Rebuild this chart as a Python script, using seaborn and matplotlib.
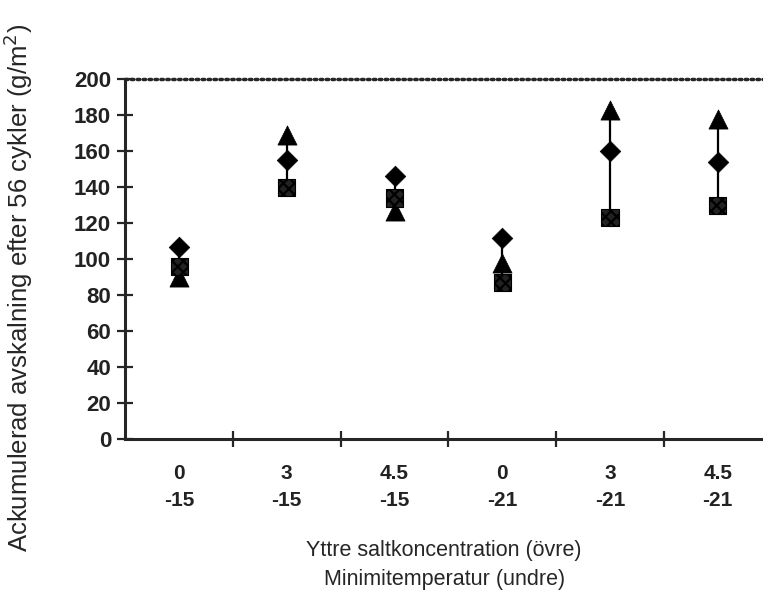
import matplotlib
matplotlib.use("Agg")
import matplotlib.pyplot as plt
import seaborn as sns
import numpy as np
import pandas as pd

# ---- data ----
salt = ["0", "3", "4.5", "0", "3", "4.5"]
mintemp = ["-15", "-15", "-15", "-21", "-21", "-21"]
series_triangle = [90, 169, 127, 98, 183, 178]
series_diamond = [107, 155, 146, 112, 160, 154]
series_square = [96, 140, 134, 87, 123, 130]
y_ticks = [0, 20, 40, 60, 80, 100, 120, 140, 160, 180, 200]

sns.set_style("ticks")
plt.rcParams["font.family"] = ["Liberation Sans", "DejaVu Sans"]
plt.rcParams["hatch.linewidth"] = 1.6
plt.rcParams["hatch.color"] = "white"

labels = [f"{s}\n{t}" for s, t in zip(salt, mintemp)]
pos = np.arange(len(labels))
df = pd.DataFrame({
    "pos": np.tile(pos, 3),
    "value": series_triangle + series_square + series_diamond,
    "serie": ["triangle"] * 6 + ["square"] * 6 + ["diamond"] * 6,
})

fig = plt.figure(figsize=(7.63, 6.0), dpi=100)
ax = fig.add_axes([0.164, 0.268, 0.836, 0.600])

# vertical range lines
lo = df.groupby("pos")["value"].min()
hi = df.groupby("pos")["value"].max()
ax.vlines(lo.index, lo.values, hi.values, color="black", lw=1.6, zorder=2)

sns.scatterplot(data=df[df.serie == "triangle"], x="pos", y="value", marker="^",
                s=190, color="black", edgecolor="black", linewidth=0.5, ax=ax,
                zorder=3, clip_on=False, legend=False)
sns.scatterplot(data=df[df.serie == "square"], x="pos", y="value", marker="s",
                s=150, facecolor="#222222", edgecolor="black", linewidth=0.8,
                hatch="xxx", ax=ax, zorder=4, clip_on=False, legend=False)
sns.scatterplot(data=df[df.serie == "diamond"], x="pos", y="value", marker="D",
                s=110, color="black", edgecolor="black", linewidth=0.5, ax=ax,
                zorder=5, clip_on=False, legend=False)

ax.set_xlim(-0.5, 5.42)
ax.set_ylim(0, 200)

ax.set_yticks(y_ticks)
ax.set_yticklabels([str(v) for v in y_ticks], fontsize=16, fontweight="bold",
                   color="#222222")
ax.tick_params(axis="y", direction="inout", length=12, width=1.6, pad=4)

ax.set_xticks(pos[:-1] + 0.5)
ax.set_xticklabels([])
ax.set_xticks(pos, minor=True)
ax.set_xticklabels(labels, minor=True, fontsize=15, fontweight="bold",
                   color="#222222", linespacing=1.5)
ax.tick_params(axis="x", which="major", direction="inout", length=12, width=1.6)
ax.tick_params(axis="x", which="minor", length=0, pad=18)

for s in ["left", "bottom"]:
    ax.spines[s].set_linewidth(2.2)
ax.spines["right"].set_visible(False)
ax.spines["top"].set_visible(True)
ax.spines["top"].set_linestyle((0, (0.7, 1.0)))
ax.spines["top"].set_linewidth(2.5)
ax.spines["top"].set_capstyle("round")

ax.set_xlabel("Yttre saltkoncentration (övre)\nMinimitemperatur (undre)",
              fontsize=15.5, labelpad=22, linespacing=1.5)
ax.set_ylabel("Ackumulerad avskalning efter 56 cykler (g/m$^2$)", fontsize=18.5)
ax.yaxis.set_label_coords(-0.142, 0.42)

fig.savefig("out.png", dpi=100)
